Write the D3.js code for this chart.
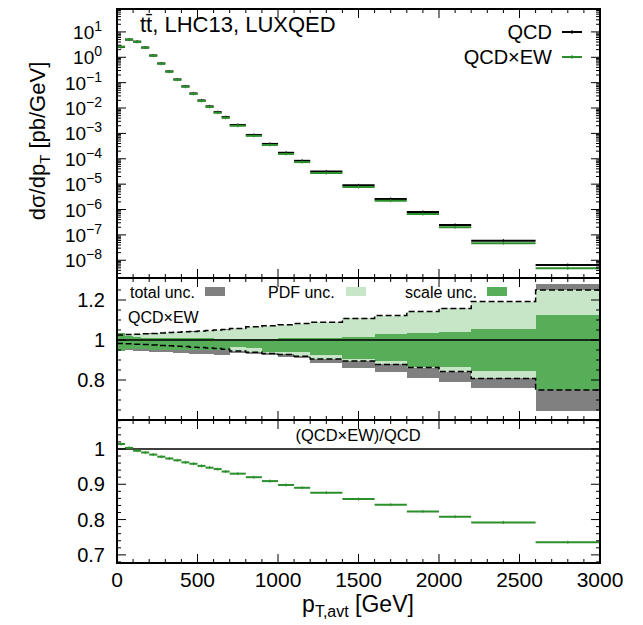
<!DOCTYPE html>
<html lang="en">
<head>
<meta charset="UTF-8">
<title>ttbar pT,avt</title>
<script src="https://cdn.jsdelivr.net/npm/d3@7"></script>
<style>
  body { margin: 0; background: #fff; }
  svg text { font-family: "Liberation Sans", Arial, sans-serif; fill: #000; }
</style>
</head>
<body>
<script>
// bin edges in GeV
const binEdges = [0,50,100,150,200,250,300,350,400,450,500,550,600,650,700,800,900,1000,1100,1200,1400,1600,1800,2000,2200,2600,3000];

// QCDxEW cross section [pb/GeV]
const xsecEW = [2.6,5.0,4.1,2.4,1.16,0.56,0.27,0.13,0.069,0.036,0.019,0.011,0.0065,0.0041,0.0020,8.0e-4,3.5e-4,1.55e-4,7.4e-5,2.75e-5,7.7e-6,2.2e-6,6.6e-7,2.0e-7,4.7e-8,4.8e-9];
// (QCDxEW)/QCD
const ratio = [1.014,1.003,0.995,0.990,0.984,0.978,0.973,0.968,0.962,0.958,0.952,0.947,0.943,0.936,0.930,0.920,0.909,0.898,0.890,0.876,0.858,0.842,0.823,0.808,0.792,0.736];

// uncertainty bands (relative to QCDxEW)
const totHi   = [1.025,1.027,1.029,1.031,1.033,1.035,1.037,1.039,1.041,1.043,1.045,1.047,1.050,1.053,1.058,1.066,1.071,1.076,1.082,1.089,1.108,1.122,1.142,1.158,1.192,1.278];
const totLo   = [0.944,0.948,0.946,0.944,0.942,0.940,0.938,0.936,0.934,0.932,0.930,0.928,0.926,0.924,0.935,0.930,0.924,0.916,0.908,0.883,0.858,0.842,0.808,0.792,0.758,0.645];
const pdfHi   = [1.024,1.026,1.028,1.030,1.032,1.034,1.036,1.038,1.040,1.042,1.044,1.046,1.049,1.052,1.058,1.066,1.071,1.076,1.082,1.089,1.108,1.122,1.142,1.158,1.192,1.250];
const pdfLo   = [0.984,0.982,0.980,0.978,0.976,0.974,0.972,0.970,0.968,0.965,0.963,0.961,0.958,0.955,0.946,0.940,0.934,0.928,0.920,0.906,0.895,0.878,0.862,0.842,0.808,0.800];
const scaleHi = [1.033,1.022,1.015,1.012,1.011,1.010,1.010,1.009,1.009,1.008,1.008,1.008,1.007,1.007,1.006,1.006,1.007,1.008,1.009,1.010,1.013,1.028,1.033,1.038,1.055,1.125];
const scaleLo = [0.946,0.955,0.955,0.953,0.951,0.950,0.950,0.950,0.950,0.950,0.950,0.950,0.950,0.950,0.963,0.962,0.942,0.940,0.938,0.925,0.905,0.895,0.867,0.867,0.845,0.750];
const dashHi  = [1.025,1.027,1.029,1.031,1.033,1.035,1.037,1.039,1.041,1.043,1.045,1.047,1.050,1.053,1.058,1.066,1.071,1.076,1.082,1.089,1.108,1.122,1.142,1.158,1.192,1.250];
const dashLo  = [0.983,0.981,0.979,0.977,0.975,0.973,0.971,0.969,0.967,0.964,0.962,0.960,0.957,0.954,0.945,0.939,0.933,0.927,0.919,0.905,0.895,0.878,0.862,0.842,0.808,0.750];

const xTicks = [0,500,1000,1500,2000,2500,3000];
const topTicks = [1e1,1e0,1e-1,1e-2,1e-3,1e-4,1e-5,1e-6,1e-7,1e-8];
const midTicks = [0.8,1,1.2];
const botTicks = [0.7,0.8,0.9,1];

const W = 643, H = 625;
const L = 117, R = 600;
const topP = [9, 278], midP = [278, 420], botP = [420, 563];

const green = "#2b8f2b", gray = "#808080", lightGreen = "#c7e5c7", darkGreen = "#58ad58";

const svg = d3.select("body").append("svg").attr("width", W).attr("height", H);

const x = d3.scaleLinear().domain([0, 3000]).range([L, R]);
const yTop = d3.scaleLog().domain([2e-9, 80]).range([topP[1], topP[0]]);
const yMid = d3.scaleLinear().domain([0.6, 1.31]).range([midP[1], midP[0]]);
const yBot = d3.scaleLinear().domain([0.677, 1.082]).range([botP[1], botP[0]]);

const bins = d3.range(binEdges.length - 1).map(i => ({
  lo: binEdges[i], hi: binEdges[i + 1], mid: (binEdges[i] + binEdges[i + 1]) / 2, i: i
}));

// ---------- middle panel bands ----------
const midG = svg.append("g");
function band(hi, lo, fill) {
  midG.append("g").selectAll("rect").data(bins).enter().append("rect")
    .attr("x", d => x(d.lo)).attr("width", d => x(d.hi) - x(d.lo))
    .attr("y", d => yMid(hi[d.i])).attr("height", d => yMid(lo[d.i]) - yMid(hi[d.i]))
    .attr("fill", fill).attr("shape-rendering", "crispEdges");
}
band(totHi, totLo, gray);
band(pdfHi, pdfLo, lightGreen);
band(scaleHi, scaleLo, darkGreen);

function stepPath(vals) {
  const pts = [];
  bins.forEach(d => { pts.push([x(d.lo), yMid(vals[d.i])]); pts.push([x(d.hi), yMid(vals[d.i])]); });
  return d3.line()(pts);
}
[dashHi, dashLo].forEach(v => {
  midG.append("path").attr("d", stepPath(v)).attr("fill", "none")
    .attr("stroke", "#000").attr("stroke-width", 1.5).attr("stroke-dasharray", "6,3");
});
midG.append("line").attr("x1", L).attr("x2", R).attr("y1", yMid(1)).attr("y2", yMid(1))
  .attr("stroke", "#000").attr("stroke-width", 1.5);

// ---------- top panel ----------
const topG = svg.append("g");
function hbars(g, vals, yScale, color) {
  g.append("g").selectAll("line").data(bins).enter().append("line")
    .attr("x1", d => x(d.lo)).attr("x2", d => x(d.hi))
    .attr("y1", d => yScale(vals[d.i])).attr("y2", d => yScale(vals[d.i]))
    .attr("stroke", color).attr("stroke-width", 2);
  g.append("g").selectAll("line").data(bins).enter().append("line")
    .attr("x1", d => x(d.mid)).attr("x2", d => x(d.mid))
    .attr("y1", d => yScale(vals[d.i]) - 1.5).attr("y2", d => yScale(vals[d.i]) + 1.5)
    .attr("stroke", color).attr("stroke-width", 1);
}
const xsecQCD = xsecEW.map((v, i) => v / ratio[i]);
hbars(topG, xsecQCD, yTop, "#000");
hbars(topG, xsecEW, yTop, green);

// ---------- bottom panel ----------
const botG = svg.append("g");
botG.append("line").attr("x1", L).attr("x2", R).attr("y1", yBot(1)).attr("y2", yBot(1))
  .attr("stroke", "#000").attr("stroke-width", 1.5);
hbars(botG, ratio, yBot, green);

// ---------- frames and ticks ----------
const axes = svg.append("g").attr("stroke", "#000");
function tickLines(vals, len, yScale) {
  vals.forEach(v => {
    const yy = yScale(v);
    axes.append("line").attr("x1", L).attr("x2", L + len).attr("y1", yy).attr("y2", yy).attr("stroke-width", 1);
    axes.append("line").attr("x1", R).attr("x2", R - len).attr("y1", yy).attr("y2", yy).attr("stroke-width", 1);
  });
}
function xTickLines(panel) {
  d3.range(0, 3001, 100).forEach(v => {
    const len = v % 500 === 0 ? 9 : 4;
    axes.append("line").attr("x1", x(v)).attr("x2", x(v)).attr("y1", panel[1]).attr("y2", panel[1] - len).attr("stroke-width", 1);
    axes.append("line").attr("x1", x(v)).attr("x2", x(v)).attr("y1", panel[0]).attr("y2", panel[0] + len).attr("stroke-width", 1);
  });
}
[topP, midP, botP].forEach(p => {
  xTickLines(p);
  axes.append("rect").attr("x", L).attr("y", p[0]).attr("width", R - L).attr("height", p[1] - p[0])
    .attr("fill", "none").attr("stroke-width", 2);
});

// log ticks
const logMinor = [];
d3.range(-9, 2).forEach(e => d3.range(1, 10).forEach(k => {
  const v = k * Math.pow(10, e);
  if (v >= 2e-9 && v <= 80) logMinor.push({ v: v, major: k === 1 });
}));
tickLines(logMinor.filter(d => !d.major).map(d => d.v), 4, yTop);
tickLines(logMinor.filter(d => d.major).map(d => d.v), 9, yTop);

tickLines(d3.range(0.65, 1.30, 0.05).filter(v => Math.abs(v - 0.8) > 0.01 && Math.abs(v - 1) > 0.01 && Math.abs(v - 1.2) > 0.01), 4, yMid);
tickLines(midTicks, 9, yMid);
tickLines(d3.range(0.68, 1.081, 0.02).filter(v => Math.abs(v * 10 - Math.round(v * 10)) > 0.05), 4, yBot);
tickLines(botTicks, 9, yBot);

// ---------- tick labels ----------
const lab = svg.append("g");
xTicks.forEach(v => {
  lab.append("text").attr("x", x(v)).attr("y", 587).attr("text-anchor", "middle")
    .attr("font-size", 21).text(v);
});
topTicks.forEach(v => {
  const e = Math.round(Math.log10(v));
  const t = lab.append("text").attr("x", 102).attr("y", yTop(v) + 7).attr("text-anchor", "end").attr("font-size", 19);
  t.append("tspan").text("10");
  t.append("tspan").attr("dy", -8).attr("font-size", 14).text(e < 0 ? "\u2212" + (-e) : e);
});
midTicks.forEach(v => {
  lab.append("text").attr("x", 105).attr("y", yMid(v) + 7).attr("text-anchor", "end")
    .attr("font-size", 20).text(v === 1 ? "1" : d3.format(".1f")(v));
});
botTicks.forEach(v => {
  lab.append("text").attr("x", 105).attr("y", yBot(v) + 7).attr("text-anchor", "end")
    .attr("font-size", 20).text(v === 1 ? "1" : d3.format(".1f")(v));
});

// axis titles
const yt = lab.append("text").attr("transform", "translate(45,141) rotate(-90)")
  .attr("text-anchor", "middle").attr("font-size", 22);
yt.append("tspan").text("d\u03c3/dp");
yt.append("tspan").attr("dy", 5).attr("font-size", 15).text("T");
yt.append("tspan").attr("dy", -5).text(" [pb/GeV]");

const xt = lab.append("text").attr("x", 358).attr("y", 612).attr("text-anchor", "middle").attr("font-size", 23);
xt.append("tspan").text("p");
xt.append("tspan").attr("dy", 5).attr("font-size", 16).text("T,avt");
xt.append("tspan").attr("dy", -5).text(" [GeV]");

// ---------- annotations / legends ----------
lab.append("text").attr("x", 140).attr("y", 32).attr("font-size", 22).text("t\u0074\u0304, LHC13, LUXQED");

[["QCD", "#000", 39], ["QCD\u00d7EW", green, 64]].forEach(d => {
  lab.append("text").attr("x", 552).attr("y", d[2]).attr("text-anchor", "end").attr("font-size", 20).text(d[0]);
  lab.append("line").attr("x1", 562).attr("x2", 582).attr("y1", d[2] - 7).attr("y2", d[2] - 7)
    .attr("stroke", d[1]).attr("stroke-width", 2);
  lab.append("line").attr("x1", 572).attr("x2", 572).attr("y1", d[2] - 9).attr("y2", d[2] - 5)
    .attr("stroke", d[1]).attr("stroke-width", 1);
});

[["total unc.", 130, 205, gray], ["PDF unc.", 268, 346, lightGreen], ["scale unc.", 405, 487, darkGreen]].forEach(d => {
  lab.append("text").attr("x", d[1]).attr("y", 298).attr("font-size", 16).text(d[0]);
  lab.append("rect").attr("x", d[2]).attr("y", 287).attr("width", 20).attr("height", 9).attr("fill", d[3]);
});
lab.append("text").attr("x", 128).attr("y", 323).attr("font-size", 16).text("QCD\u00d7EW");
lab.append("text").attr("x", 358).attr("y", 441).attr("text-anchor", "middle").attr("font-size", 16.5).text("(QCD\u00d7EW)/QCD");
</script>
</body>
</html>
